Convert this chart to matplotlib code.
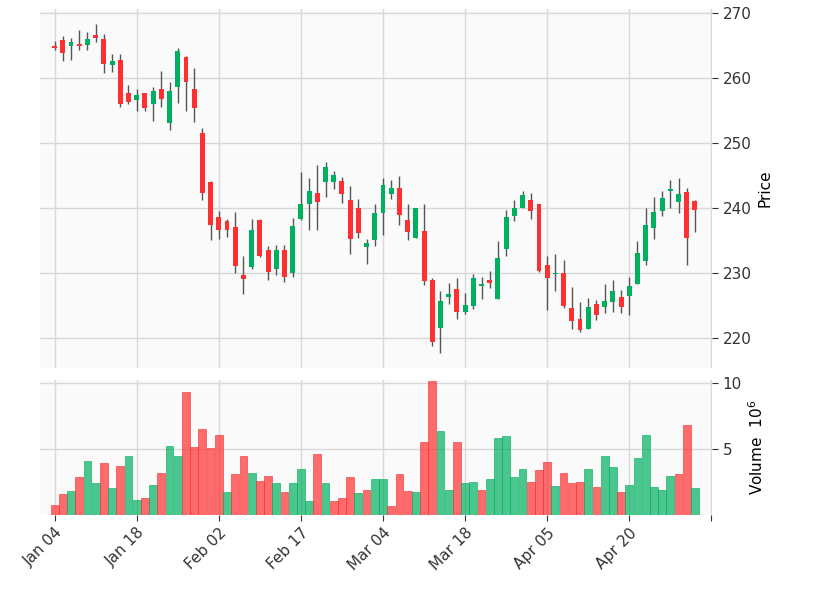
import matplotlib.pyplot as plt
import numpy as np

# OHLC values (one row per trading day)
opens = [265.0, 265.9, 264.9, 265.3, 265.1, 266.7, 266.1, 262.0, 262.8, 257.8,
         256.6, 257.8, 256.0, 258.3, 253.1, 258.7, 263.3, 258.4, 251.6, 244.0,
         238.6, 238.1, 237.2, 229.7, 231.0, 238.2, 233.6, 230.6, 233.6, 230.0,
         238.4, 240.6, 242.3, 244.0, 244.0, 244.2, 241.3, 240.0, 234.1, 235.1,
         239.3, 242.2, 243.2, 238.2, 235.5, 236.5, 229.0, 221.6, 226.3, 227.6,
         224.0, 225.0, 228.1, 229.0, 226.1, 233.8, 238.8, 240.1, 241.3, 240.6,
         231.2, 229.9, 230.1, 224.6, 223.0, 221.5, 225.2, 224.8, 225.6, 226.4,
         226.5, 228.3, 231.9, 237.0, 239.6, 242.7, 241.0, 242.5, 241.1]
closes = [264.7, 263.9, 265.6, 264.9, 266.1, 266.2, 262.2, 262.7, 256.0, 256.4,
          257.4, 255.4, 258.1, 256.8, 258.1, 264.2, 259.5, 255.4, 242.4, 237.4,
          236.7, 236.7, 231.1, 229.1, 236.7, 232.7, 230.2, 233.6, 229.5, 237.3,
          240.7, 242.7, 241.0, 246.3, 245.1, 242.2, 235.2, 236.2, 234.6, 239.3,
          243.6, 243.2, 238.9, 236.3, 240.0, 228.8, 219.4, 225.7, 226.8, 224.0,
          225.1, 229.2, 228.4, 228.5, 232.3, 238.6, 240.0, 242.0, 239.6, 230.4,
          229.2, 230.0, 225.0, 222.7, 221.3, 224.8, 223.6, 225.7, 227.3, 224.8,
          228.1, 233.1, 237.4, 239.4, 241.6, 242.9, 242.2, 235.5, 239.8]
highs = [265.8, 266.5, 266.2, 267.4, 267.1, 268.4, 266.8, 263.7, 263.7, 259.0,
         258.4, 257.8, 258.7, 261.1, 259.4, 264.7, 263.5, 261.6, 252.4, 244.2,
         239.6, 238.4, 239.4, 232.7, 238.4, 238.4, 234.2, 234.4, 234.4, 238.5,
         245.6, 244.7, 246.6, 247.2, 245.8, 244.8, 243.5, 241.5, 235.2, 240.6,
         244.6, 244.4, 244.9, 240.6, 240.1, 240.6, 229.2, 227.2, 228.5, 229.2,
         227.0, 229.9, 229.5, 230.4, 235.0, 239.8, 241.3, 242.6, 242.4, 240.7,
         232.6, 233.0, 232.1, 227.9, 225.6, 226.2, 225.9, 228.3, 229.0, 227.4,
         229.4, 235.0, 240.0, 241.8, 242.6, 244.4, 244.6, 243.1, 241.3]
lows = [264.3, 262.7, 262.8, 264.4, 264.4, 265.6, 260.8, 260.9, 255.6, 256.0,
        254.9, 254.9, 253.4, 255.6, 252.1, 256.2, 254.9, 253.3, 241.3, 235.1,
        235.3, 235.6, 230.0, 226.8, 230.6, 232.5, 229.0, 229.8, 228.7, 229.5,
        238.2, 236.7, 236.7, 241.8, 243.0, 240.8, 232.9, 235.4, 231.5, 234.2,
        235.9, 241.4, 237.4, 235.1, 235.4, 228.2, 218.8, 217.7, 225.3, 222.9,
        223.7, 224.5, 226.1, 227.8, 226.1, 232.6, 238.1, 240.0, 238.3, 230.2,
        224.4, 227.2, 224.7, 221.5, 220.9, 221.4, 222.8, 223.9, 224.0, 223.9,
        223.6, 228.3, 231.2, 235.3, 238.8, 240.0, 239.3, 231.2, 236.3]
volumes = [0.76, 1.6, 1.8, 2.9, 4.1, 2.4, 3.9, 2.0, 3.7, 4.5,
           1.1, 1.25, 2.3, 3.2, 5.2, 4.5, 9.3, 5.15, 6.55, 5.05,
           6.05, 1.7, 3.1, 4.5, 3.2, 2.6, 2.95, 2.4, 1.7, 2.4,
           3.5, 1.06, 4.65, 2.4, 1.06, 1.25, 2.9, 1.64, 1.9, 2.7,
           2.7, 0.68, 3.1, 1.8, 1.7, 5.5, 10.15, 6.35, 1.9, 5.5,
           2.4, 2.5, 1.9, 2.7, 5.8, 6.0, 2.9, 3.5, 2.5, 3.4,
           4.0, 2.2, 3.2, 2.4, 2.5, 3.5, 2.1, 4.5, 3.6, 1.7,
           2.3, 4.3, 6.1, 2.1, 1.9, 2.95, 3.1, 6.8, 2.0]
tick_labels = ['Jan 04', 'Jan 18', 'Feb 02', 'Feb 17', 'Mar 04',
               'Mar 18', 'Apr 05', 'Apr 20', '']

up_color = '#00b060'
down_color = '#fe3032'
bg = '#fafafa'
grid_color = '#d8d8d8'

x = np.arange(len(opens))
o = np.array(opens)
c = np.array(closes)
colors = [up_color if cc >= oo else down_color for oo, cc in zip(o, c)]
# volume bars are coloured by close vs previous close
prev = np.concatenate([[o[0]], c[:-1]])
vcolors = [up_color if cc >= pp else down_color for pp, cc in zip(prev, c)]

fig = plt.figure(figsize=(8.13, 5.89), dpi=100)
ax = fig.add_axes([0.049, 0.376, 0.827, 0.608])
axv = fig.add_axes([0.049, 0.126, 0.827, 0.229], sharex=ax)

for a in (ax, axv):
    a.set_facecolor(bg)
    a.grid(True, color=grid_color, linewidth=1)
    a.set_axisbelow(True)
    for s in a.spines.values():
        s.set_visible(False)
    a.yaxis.tick_right()
    a.yaxis.set_label_position('right')
    a.tick_params(axis='y', length=4, labelsize=11, colors='#333333')

# candles
ax.vlines(x, lows, highs, color='#555555', linewidth=1, zorder=2)
bottoms = np.minimum(o, c)
heights = np.maximum(np.abs(c - o), 0.15)
ax.bar(x, heights, bottom=bottoms, width=0.6, color=colors, zorder=3)
ax.set_ylim(215.5, 270.6)
ax.set_yticks([220, 230, 240, 250, 260, 270])
ax.set_ylabel('Price', fontsize=11)
ax.tick_params(axis='x', length=0, labelbottom=False)

# volume
axv.bar(x, volumes, width=0.95, color=vcolors, alpha=0.7, edgecolor=vcolors, linewidth=0.6)
axv.set_ylim(0, 10.25)
axv.set_yticks([5, 10])
axv.set_ylabel('Volume  $10^{6}$', fontsize=11)
axv.set_xlim(-1.8, 80.1)
axv.set_xticks(np.arange(0, 81, 10))
axv.set_xticklabels(tick_labels, rotation=45, ha='right', rotation_mode='anchor', fontsize=11)
axv.tick_params(axis='x', length=4, colors='#333333')

fig.savefig('out.png', dpi=100, facecolor='white')
